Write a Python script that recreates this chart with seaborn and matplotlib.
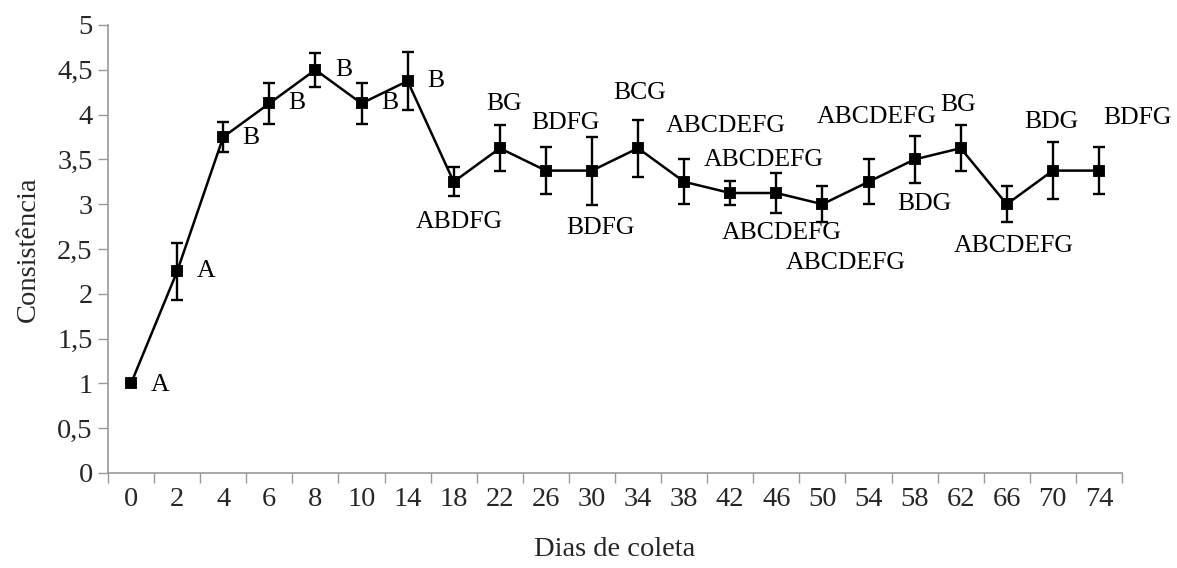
import numpy as np
import pandas as pd
import matplotlib
matplotlib.use("Agg")
import matplotlib.pyplot as plt
import seaborn as sns

# Collection days and mean consistency scores with their errors
dias = ["0", "2", "4", "6", "8", "10", "14", "18", "22", "26", "30", "34",
        "38", "42", "46", "50", "54", "58", "62", "66", "70", "74"]
consistencia = [1.0, 2.25, 3.75, 4.125, 4.5, 4.125, 4.375, 3.25, 3.625, 3.375, 3.375, 3.625,
                3.25, 3.125, 3.125, 3.0, 3.25, 3.5, 3.625, 3.0, 3.375, 3.375]
erro = [0.0, 0.32, 0.165, 0.23, 0.19, 0.23, 0.32, 0.16, 0.26, 0.26, 0.38, 0.32,
        0.25, 0.13, 0.22, 0.2, 0.25, 0.26, 0.26, 0.2, 0.32, 0.26]
letras = ["A", "A", "B", "B", "B", "B", "B", "ABDFG", "BG", "BDFG", "BDFG", "BCG",
          "ABCDEFG", "ABCDEFG", "ABCDEFG", "ABCDEFG", "ABCDEFG", "BDG", "BG", "ABCDEFG", "BDG", "BDFG"]

# Label placement (offset in points from each mark, horizontal alignment)
label_offsets = [(14, -1, "left"), (14, 0, "left"), (14, -1, "left"), (14, 0, "left"),
                 (14, 0, "left"), (14, 0, "left"), (14, 0, "left"),
                 (4, -29, "center"), (3, 32, "center"), (14, 34, "center"), (6, -41, "center"),
                 (1, 40, "center"), (30, 40, "center"), (24, 24, "center"), (4, -29, "center"),
                 (17, -42, "center"), (6, 47, "center"), (7, -32, "center"), (-2, 31, "center"),
                 (5, -30, "center"), (-1, 35, "center"), (28, 38, "center")]

df = pd.DataFrame({"Dias": dias, "Consistencia": consistencia})

sns.set_style("ticks")
plt.rcParams["font.family"] = ["Liberation Serif", "DejaVu Serif"]

fig = plt.figure(figsize=(11.77, 5.68), dpi=100)
ax = fig.add_axes([108 / 1177, 1 - 473 / 568, (1122 - 108) / 1177, (473 - 25) / 568])

sns.pointplot(data=df, x="Dias", y="Consistencia", order=dias, color="black",
              markers="s", linestyles="-", markersize=7.5, linewidth=1.8,
              errorbar=None, ax=ax)

xs = np.arange(len(dias))
ax.errorbar(xs, consistencia, yerr=erro, fmt="none", ecolor="black",
            elinewidth=1.7, capsize=4.5, capthick=1.7, zorder=1)

for x, y, txt, (dx, dy, ha) in zip(xs, consistencia, letras, label_offsets):
    ax.annotate(txt, (x, y), xytext=(dx, dy), textcoords="offset points",
                ha=ha, va="center", fontsize=18.5, color="black")

ax.set_xlim(-0.5, len(dias) - 0.5)
ax.set_ylim(0, 5)
ax.set_yticks(np.arange(0, 5.01, 0.5))
ax.set_yticklabels([f"{v:g}".replace(".", ",") for v in np.arange(0, 5.01, 0.5)])

# Category ticks sit between the points; labels centred under each point
ax.set_xticks(np.arange(-0.5, len(dias), 1.0))
ax.set_xticklabels([])
ax.set_xticks(xs, minor=True)
ax.set_xticklabels(dias, minor=True)
ax.tick_params(axis="x", which="minor", length=0, pad=10, labelsize=20.5)
ax.tick_params(axis="x", which="major", length=7, width=1, color="#9a9a9a")
ax.tick_params(axis="y", length=7, width=1, color="#9a9a9a", labelsize=20.5, pad=4)

for side in ["top", "right"]:
    ax.spines[side].set_visible(False)
for side in ["left", "bottom"]:
    ax.spines[side].set_color("#9a9a9a")
    ax.spines[side].set_linewidth(1.2)

ax.set_xlabel("Dias de coleta", fontsize=20.5, labelpad=18)
ax.set_ylabel("Consistência", fontsize=20.5, labelpad=12)

fig.savefig("out.png", dpi=100, facecolor="white")
